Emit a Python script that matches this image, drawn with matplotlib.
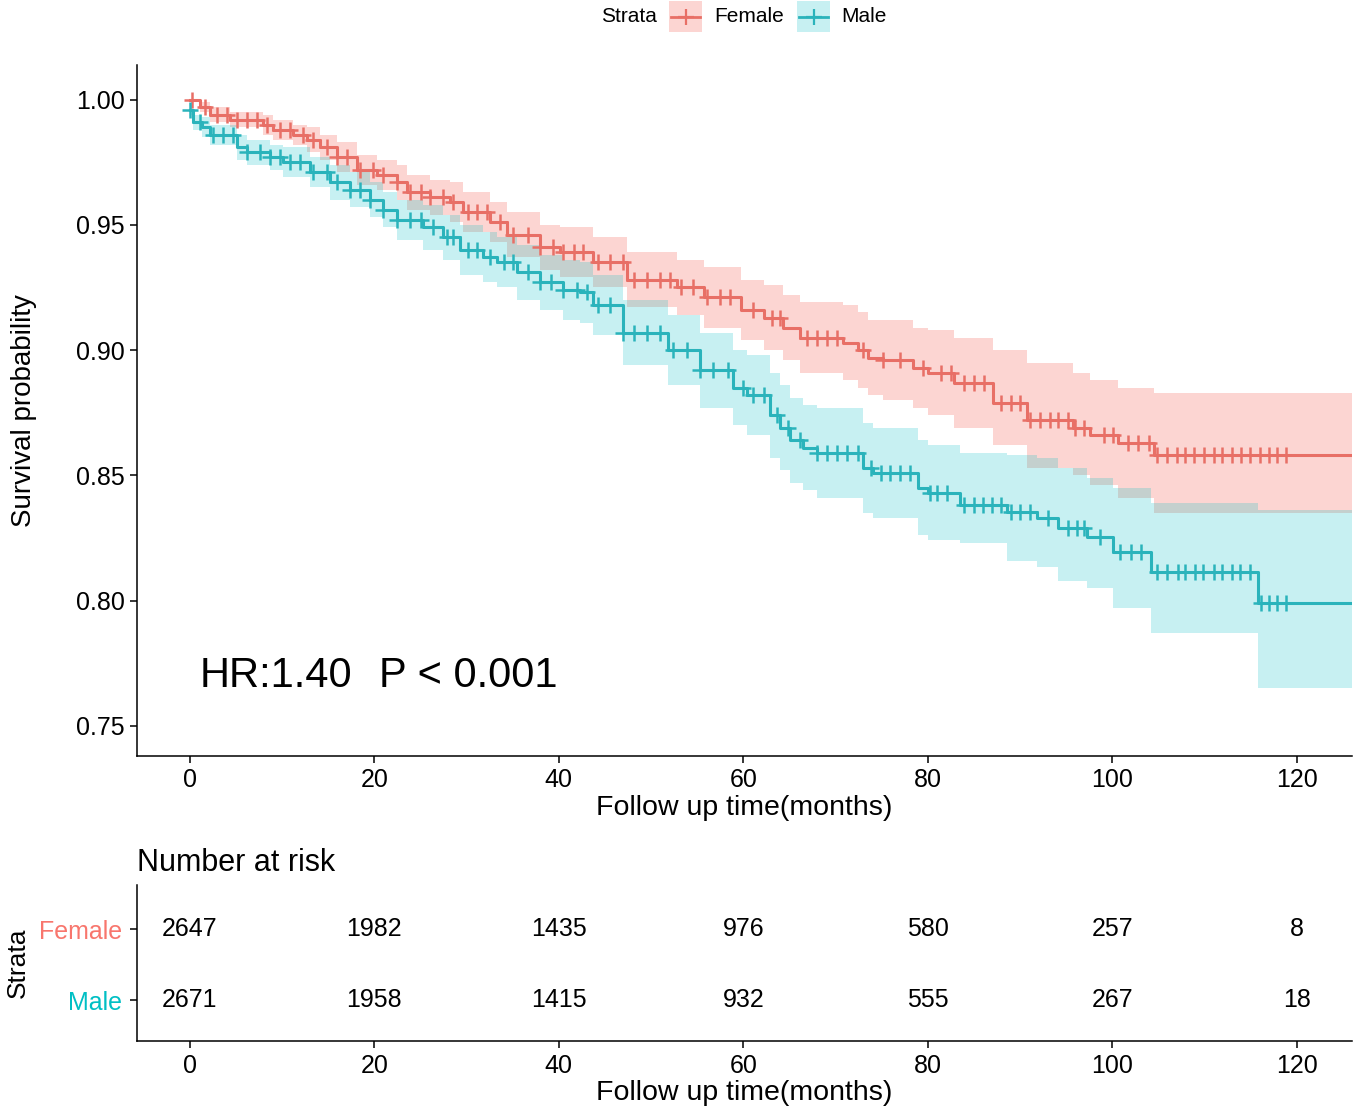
import numpy as np
import matplotlib
matplotlib.use('Agg')
import matplotlib.pyplot as plt
from matplotlib.patches import Rectangle
from matplotlib.lines import Line2D

plt.rcParams['font.family'] = ['Liberation Sans', 'DejaVu Sans']

# Kaplan-Meier steps (months, survival, 95% CI)
female_time = [0, 1.1, 2.2, 4.3, 7.9, 9.0, 11.2, 12.7, 14.1, 15.9, 18.1, 20.3, 22.5, 23.5, 26.0,
               28.2, 29.6, 32.5, 34.4, 38.0, 40.1, 43.7, 47.4, 52.8, 55.7, 59.7, 62.2, 64.3,
               66.2, 70.8, 72.4, 73.5, 75.2, 78.4, 80.0, 82.8, 87.1, 90.8, 95.8, 97.6, 100.6, 104.5]
female_surv = [1.000, 0.997, 0.994, 0.992, 0.990, 0.988, 0.986, 0.984, 0.981, 0.977, 0.972, 0.970,
               0.967, 0.963, 0.961, 0.959, 0.955, 0.951, 0.946, 0.941, 0.939, 0.935, 0.928, 0.925,
               0.921, 0.916, 0.913, 0.909, 0.905, 0.903, 0.900, 0.897, 0.896, 0.893, 0.891, 0.887,
               0.879, 0.872, 0.869, 0.866, 0.863, 0.858]
female_lower = [0.999, 0.995, 0.991, 0.989, 0.986, 0.984, 0.982, 0.979, 0.976, 0.971, 0.966, 0.964,
                0.960, 0.956, 0.954, 0.951, 0.947, 0.943, 0.937, 0.932, 0.929, 0.925, 0.917, 0.914,
                0.909, 0.904, 0.900, 0.896, 0.891, 0.888, 0.885, 0.882, 0.880, 0.877, 0.874, 0.869,
                0.862, 0.853, 0.850, 0.846, 0.841, 0.835]
female_upper = [1.000, 0.999, 0.997, 0.995, 0.994, 0.992, 0.990, 0.989, 0.986, 0.983, 0.978, 0.976,
                0.974, 0.970, 0.968, 0.967, 0.963, 0.959, 0.955, 0.950, 0.949, 0.945, 0.939, 0.936,
                0.933, 0.928, 0.926, 0.922, 0.919, 0.918, 0.915, 0.912, 0.912, 0.909, 0.908, 0.905,
                0.900, 0.895, 0.891, 0.888, 0.885, 0.883]

male_time = [0, 0.3, 1.3, 2.2, 5.1, 6.2, 8.7, 10.1, 13.0, 15.2, 17.4, 19.5, 20.9, 22.5, 25.3, 27.4,
             29.3, 31.8, 33.3, 35.5, 38.0, 40.5, 42.3, 43.7, 47.0, 51.8, 55.3, 58.9, 60.4, 62.9,
             64.0, 65.1, 66.5, 68.0, 73.0, 74.1, 78.9, 80.0, 83.5, 88.6, 91.9, 94.1, 97.3, 100.1,
             104.2, 115.8]
male_surv = [0.996, 0.991, 0.989, 0.986, 0.981, 0.979, 0.977, 0.975, 0.971, 0.967, 0.964, 0.960,
             0.956, 0.952, 0.949, 0.945, 0.940, 0.937, 0.935, 0.931, 0.927, 0.924, 0.923, 0.918,
             0.907, 0.900, 0.892, 0.885, 0.882, 0.874, 0.869, 0.864, 0.861, 0.859, 0.853, 0.851,
             0.845, 0.843, 0.838, 0.8355, 0.833, 0.829, 0.8255, 0.8195, 0.8115, 0.799]
male_lower = [0.994, 0.988, 0.985, 0.982, 0.976, 0.974, 0.972, 0.969, 0.965, 0.960, 0.957, 0.953,
              0.949, 0.944, 0.940, 0.936, 0.930, 0.927, 0.925, 0.920, 0.916, 0.912, 0.911, 0.906,
              0.894, 0.886, 0.877, 0.870, 0.866, 0.857, 0.852, 0.847, 0.844, 0.841, 0.835, 0.833,
              0.826, 0.824, 0.823, 0.816, 0.8135, 0.808, 0.805, 0.797, 0.787, 0.765]
male_upper = [0.998, 0.994, 0.993, 0.990, 0.986, 0.984, 0.982, 0.981, 0.977, 0.974, 0.971, 0.967,
              0.963, 0.960, 0.958, 0.954, 0.950, 0.947, 0.945, 0.942, 0.938, 0.936, 0.935, 0.930,
              0.920, 0.914, 0.907, 0.900, 0.898, 0.891, 0.886, 0.881, 0.878, 0.877, 0.871, 0.869,
              0.864, 0.862, 0.859, 0.858, 0.857, 0.853, 0.849, 0.845, 0.839, 0.836]

end_time = 126

# censoring times (months)
female_censor = [0.2, 1.6, 2.9, 4.0, 5.1, 6.2, 7.3, 8.4, 9.8, 10.8, 12.3, 13.3, 14.9, 15.9, 17.0,
                 18.4, 19.9, 20.9, 22.5, 23.9, 25.0, 26.0, 27.4, 28.5, 30.1, 31.1, 32.2, 33.6,
                 35.0, 36.6, 38.0, 39.4, 40.5, 41.6, 42.6, 44.2, 45.6, 47.0, 48.1, 49.6, 51.0,
                 52.1, 53.2, 54.6, 56.1, 57.5, 58.6, 61.1, 63.1, 64.0, 66.9, 68.0, 69.1, 70.2,
                 73.0, 75.2, 77.0, 79.5, 81.4, 82.5, 83.9, 85.0, 86.1, 87.9, 89.0, 90.0, 91.1,
                 92.2, 93.3, 94.1, 95.2, 96.0, 96.9, 99.1, 100.1, 101.7, 102.8, 104.0, 104.9,
                 105.9, 107.0, 107.9, 108.9, 110.0, 111.0, 111.9, 113.0, 114.0, 114.9, 116.0,
                 117.0, 117.9, 118.8]
male_censor = [0.0, 1.1, 2.5, 3.6, 4.7, 6.2, 7.6, 8.7, 9.8, 10.8, 11.9, 13.3, 14.9, 15.9, 17.4,
               18.4, 19.5, 20.9, 22.5, 23.9, 25.0, 26.4, 27.9, 28.5, 30.1, 31.1, 32.5, 34.0,
               35.0, 36.6, 38.0, 39.1, 40.5, 42.0, 43.1, 44.2, 45.6, 47.0, 48.1, 49.6, 51.0,
               52.4, 53.9, 55.3, 56.7, 58.3, 60.0, 61.1, 62.2, 63.7, 64.8, 66.2, 68.0, 69.1,
               70.2, 71.3, 72.4, 73.8, 74.9, 75.9, 77.0, 78.1, 80.3, 81.0, 82.1, 83.9, 85.0,
               86.0, 87.0, 87.9, 89.0, 90.0, 91.1, 93.0, 95.2, 96.2, 96.9, 98.7, 100.9, 102.0,
               103.1, 104.9, 106.0, 107.1, 107.9, 109.0, 109.9, 111.0, 111.9, 113.0, 113.9,
               115.0, 116.1, 117.0, 117.9, 118.8]

risk_times = [0, 20, 40, 60, 80, 100, 120]
female_risk = [2647, 1982, 1435, 976, 580, 257, 8]
male_risk = [2671, 1958, 1415, 932, 555, 267, 18]

female_col = '#F8766D'
male_col = '#00BFC4'
female_line = '#E86F66'
male_line = '#2AB3BB'

fig = plt.figure(figsize=(13.56, 11.1), dpi=100)
ax = fig.add_axes([0.101, 0.319, 0.896, 0.622])
ax_tab = fig.add_axes([0.101, 0.062, 0.896, 0.1405])

groups = [
    (female_time, female_surv, female_lower, female_upper, female_censor, female_col, female_line, 0.3),
    (male_time, male_surv, male_lower, male_upper, male_censor, male_col, male_line, 0.22),
]
for t, s, lo, hi, cens, fill_col, line_col, alpha in groups:
    tt = np.append(t, end_time)
    ss = np.append(s, s[-1])
    ax.fill_between(tt, np.append(lo, lo[-1]), np.append(hi, hi[-1]), step='post',
                    color=fill_col, alpha=alpha, linewidth=0)
    ax.step(tt, ss, where='post', color=line_col, linewidth=2.2)
    idx = np.searchsorted(t, cens, side='right') - 1
    ax.plot(cens, np.array(s)[idx], linestyle='none', marker='+', markersize=11,
            markeredgewidth=1.8, color=line_col)

ax.text(1.0, 0.7656, 'HR:1.40', fontsize=30, ha='left', va='baseline')
ax.text(20.5, 0.7656, 'P < 0.001', fontsize=30, ha='left', va='baseline')

ax.set_xlim(-5.75, 126)
ax.set_ylim(0.738, 1.0136)
ax.set_xticks(risk_times)
ax.set_yticks([0.75, 0.80, 0.85, 0.90, 0.95, 1.00])
ax.set_yticklabels(['0.75', '0.80', '0.85', '0.90', '0.95', '1.00'])
ax.set_xlabel('Follow up time(months)', fontsize=20.5, labelpad=2)
ax.set_ylabel('Survival probability', fontsize=20, labelpad=28)

for a in (ax, ax_tab):
    for side in ('top', 'right'):
        a.spines[side].set_visible(False)
    for side in ('left', 'bottom'):
        a.spines[side].set_linewidth(1.1)
    a.tick_params(direction='out', length=5, width=1.1, labelsize=18, colors='black', pad=4)

# risk table
for xt, n in zip(risk_times, female_risk):
    ax_tab.text(xt, 2, str(n), fontsize=18, ha='center', va='center')
for xt, n in zip(risk_times, male_risk):
    ax_tab.text(xt, 1, str(n), fontsize=18, ha='center', va='center')
ax_tab.set_xlim(-5.75, 126)
ax_tab.set_ylim(0.42, 2.62)
ax_tab.set_xticks(risk_times)
ax_tab.set_yticks([1, 2])
ax_tab.set_yticklabels(['Male', 'Female'])
for lab, c in zip(ax_tab.get_yticklabels(), [male_col, female_col]):
    lab.set_color(c)
ax_tab.tick_params(axis='y', pad=6)
ax_tab.set_xlabel('Follow up time(months)', fontsize=20.5, labelpad=2)
ax_tab.set_ylabel('Strata', fontsize=19, labelpad=6)
ax_tab.set_title('Number at risk', loc='left', fontsize=22, pad=10)

# legend on top
W, H = 1356, 1110
fig.text(601 / W, 1 - 17 / H, 'Strata', fontsize=15, ha='left', va='center')
for x0, fill_col, line_col, label, tx, alpha in [(669, female_col, female_line, 'Female', 714, 0.3),
                                                  (797, male_col, male_line, 'Male', 841, 0.22)]:
    fig.add_artist(Rectangle((x0 / W, 1 - 32 / H), 33 / W, 31 / H, transform=fig.transFigure,
                             facecolor=fill_col, alpha=alpha, linewidth=0))
    fig.add_artist(Line2D([(x0 + 2) / W, (x0 + 31) / W], [1 - 17 / H, 1 - 17 / H],
                          transform=fig.transFigure, color=line_col, linewidth=2))
    fig.add_artist(Line2D([(x0 + 16.5) / W], [1 - 17 / H], transform=fig.transFigure,
                          marker='+', markersize=12, markeredgewidth=1.6, color=line_col))
    fig.text(tx / W, 1 - 17 / H, label, fontsize=15, ha='left', va='center')

fig.savefig('out.png', dpi=100)
